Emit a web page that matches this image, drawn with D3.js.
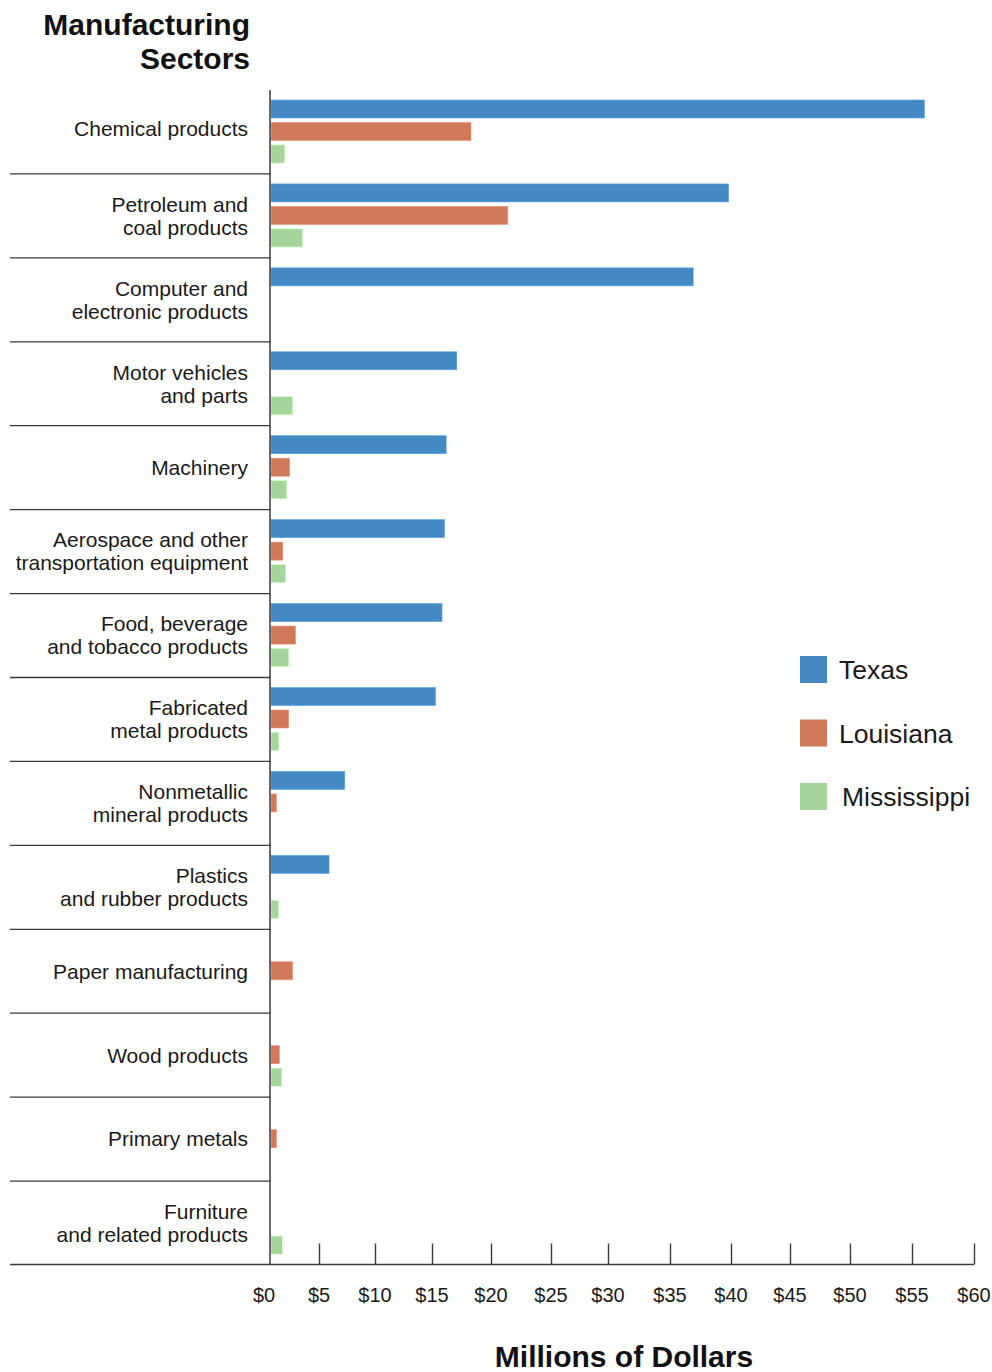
<!DOCTYPE html>
<html><head><meta charset="utf-8">
<script src="https://cdn.jsdelivr.net/npm/d3@7"></script>
<style>
html,body{margin:0;padding:0;background:#fff;}
svg{display:block;font-family:"Liberation Sans",Arial,Helvetica,sans-serif;}
</style></head>
<body>
<svg id="chart" width="992" height="1372"></svg>
<script>
const categories = [
  ["Chemical products"],
  ["Petroleum and","coal products"],
  ["Computer and","electronic products"],
  ["Motor vehicles","and parts"],
  ["Machinery"],
  ["Aerospace and other","transportation equipment"],
  ["Food, beverage","and tobacco products"],
  ["Fabricated","metal products"],
  ["Nonmetallic","mineral products"],
  ["Plastics","and rubber products"],
  ["Paper manufacturing"],
  ["Wood products"],
  ["Primary metals"],
  ["Furniture","and related products"]
];
const series = ["Texas","Louisiana","Mississippi"];
const texas       = [56.0, 39.8, 36.9, 17.1, 16.2, 16.05, 15.85, 15.3, 7.3, 5.9, 0, 0, 0, 0];
const louisiana   = [18.3, 21.4, 0, 0, 2.0, 1.3, 2.6, 1.9, 0.65, 0, 2.3, 0.95, 0.65, 0];
const mississippi = [1.5, 3.3, 0, 2.3, 1.7, 1.6, 1.9, 0.9, 0, 0.85, 0, 1.2, 0, 1.25];
const tickValues  = [0,5,10,15,20,25,30,35,40,45,50,55,60];
const tickLabels  = ["$0","$5","$10","$15","$20","$25","$30","$35","$40","$45","$50","$55","$60"];
const colors = {Texas:"#4589c4", Louisiana:"#cf785a", Mississippi:"#a6d59c"};
const title = ["Manufacturing","Sectors"];
const xTitle = "Millions of Dollars";

const svg = d3.select("#chart");
const values = {Texas: texas, Louisiana: louisiana, Mississippi: mississippi};

// x scale (the printed axis has slightly irregular tick spacing)
const tickPx = [270,319,375,432,491,551,608,670,731,790,850,912,974];
const x = d3.scaleLinear().domain(tickValues).range(tickPx);

const y = d3.scaleBand().domain(d3.range(categories.length)).range([90,1265]).padding(0);
const ys = d3.scaleBand().domain(series).range([10,73]).paddingInner(0.2);

const lineColor = "#3a3a3a";

// bars
const g = svg.append("g");
categories.forEach((c,i)=>{
  series.forEach(s=>{
    const v = values[s][i];
    if (v > 0) {
      g.append("rect")
        .attr("x", x(0)+1)
        .attr("y", y(i)+ys(s))
        .attr("width", x(v)-x(0)-1)
        .attr("height", ys.bandwidth())
        .attr("fill", colors[s])
        .attr("stroke", d3.color(colors[s]).brighter(0.5))
        .attr("stroke-width", 0.6);
    }
  });
});

// separators
categories.forEach((c,i)=>{
  if (i>0) svg.append("line").attr("x1",10).attr("x2",x(0)).attr("y1",y(i)).attr("y2",y(i))
    .attr("stroke",lineColor).attr("stroke-width",1.3);
});

// vertical axis line
svg.append("line").attr("x1",x(0)).attr("x2",x(0)).attr("y1",90).attr("y2",1265)
  .attr("stroke",lineColor).attr("stroke-width",1.5);

// category labels
categories.forEach((c,i)=>{
  const cy = y(i)+y.bandwidth()/2 - (i===0 ? 3 : 0);
  const lh = 23;
  const t = svg.append("text").attr("text-anchor","end").attr("font-size",21).attr("fill","#1a1a1a");
  c.forEach((line,j)=>{
    t.append("tspan").attr("x",248).attr("y", cy + (j-(c.length-1)/2)*lh).attr("dy","0.35em").text(line);
  });
});

// x axis
const axis = d3.axisTop(x).tickValues(tickValues).tickSize(21).tickFormat(()=> "");
const ax = svg.append("g").attr("transform","translate(0,1264.5)").call(axis);
ax.select(".domain").attr("d", "M10,0H"+x(60)).attr("stroke",lineColor).attr("stroke-width",1.5);
ax.selectAll(".tick line").attr("stroke",lineColor).attr("stroke-width",1.4);
ax.selectAll(".tick").filter(d=>d===0).select("line").remove();

svg.append("g").selectAll("text").data(tickValues).join("text")
  .attr("x", d=>x(d) - (d===0 ? 6 : 0)).attr("y",1302).attr("text-anchor","middle")
  .attr("font-size",20).attr("fill","#1a1a1a")
  .text((d,i)=>tickLabels[i]);

// axis title
svg.append("text").attr("x",624).attr("y",1367).attr("text-anchor","middle")
  .attr("font-size",30).attr("font-weight","bold").attr("fill","#111").text(xTitle);

// chart title
const tt = svg.append("text").attr("text-anchor","end").attr("font-size",30).attr("font-weight","bold").attr("fill","#111");
title.forEach((l,j)=>tt.append("tspan").attr("x",250).attr("y",35+j*34).text(l));

// legend
series.forEach((s,i)=>{
  const ly = 656 + i*63.5;
  svg.append("rect").attr("x",800).attr("y",ly).attr("width",27).attr("height",27).attr("fill",colors[s]);
  svg.append("text").attr("x", i===2?842:839).attr("y",ly+13.5).attr("dy","0.36em")
    .attr("font-size",26.5).attr("fill","#1a1a1a").text(s);
});
</script>
</body></html>
